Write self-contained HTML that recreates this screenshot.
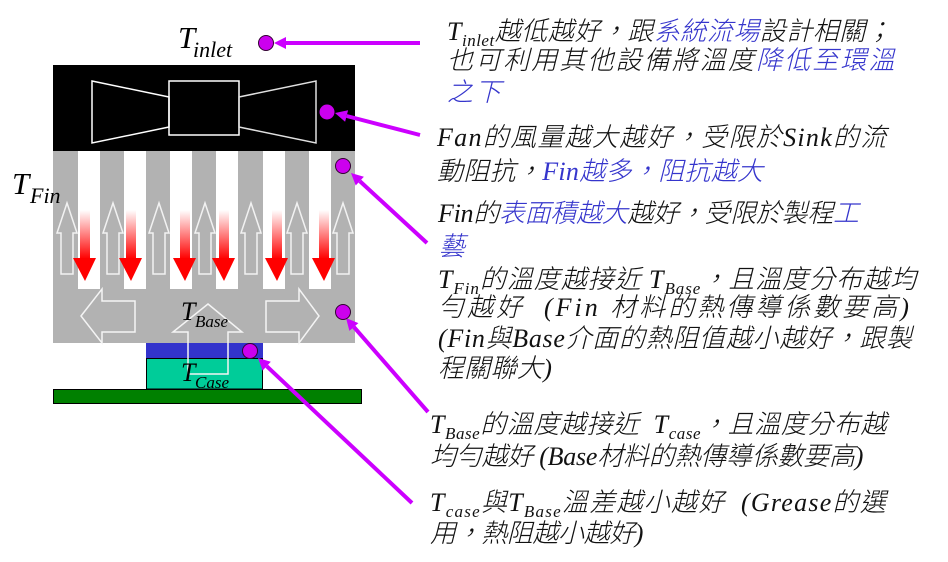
<!DOCTYPE html>
<html>
<head>
<meta charset="utf-8">
<style>
  html,body{margin:0;padding:0;background:#fff;}
  #wrap{position:relative;width:948px;height:562px;overflow:hidden;background:#fff;}
  svg{position:absolute;left:0;top:0;}
  .t{position:absolute;white-space:nowrap;font-family:"Liberation Serif","Noto Sans CJK TC",serif;font-style:italic;font-weight:300;font-size:26px;line-height:32px;color:#111;}
  .t sub{font-size:17px;position:relative;top:6px;vertical-align:baseline;line-height:1;}
  .b{color:#3535cc;}
</style>
</head>
<body>
<div id="wrap">
<svg width="948" height="562" viewBox="0 0 948 562" xmlns="http://www.w3.org/2000/svg">
  <defs>
    <linearGradient id="rg" x1="0" y1="0" x2="0" y2="1">
      <stop offset="0" stop-color="#ffffff"/>
      <stop offset="1" stop-color="#ff0000"/>
    </linearGradient>
  </defs>

  <!-- fan box -->
  <rect x="53" y="65" width="302" height="86" fill="#000"/>
  <polygon points="92,81 169,97 169,127 92,143" fill="none" stroke="#fff" stroke-width="1.5"/>
  <rect x="169" y="81" width="70" height="54" fill="none" stroke="#fff" stroke-width="1.5"/>
  <polygon points="239,97 316,81 316,143 239,127" fill="none" stroke="#e0e0e0" stroke-width="1.5"/>

  <!-- fins + base -->
  <rect x="53" y="151" width="302" height="192" fill="#b2b2b2"/>
  <rect x="78" y="151" width="22" height="138" fill="#fff"/>
  <rect x="124" y="151" width="22" height="138" fill="#fff"/>
  <rect x="170" y="151" width="22" height="138" fill="#fff"/>
  <rect x="216" y="151" width="22" height="138" fill="#fff"/>
  <rect x="263" y="151" width="22" height="138" fill="#fff"/>
  <rect x="309" y="151" width="22" height="138" fill="#fff"/>

  <!-- hollow up arrows in fins -->
  <g fill="none" stroke="#f2f2f2" stroke-width="1.5">
    <polygon points="67,203 77,233 73,233 73,274 61,274 61,233 57,233"/>
    <polygon points="113,203 123,233 119,233 119,274 107,274 107,233 103,233"/>
    <polygon points="159,203 169,233 165,233 165,274 153,274 153,233 149,233"/>
    <polygon points="205,203 215,233 211,233 211,274 199,274 199,233 195,233"/>
    <polygon points="251,203 261,233 257,233 257,274 245,274 245,233 241,233"/>
    <polygon points="297,203 307,233 303,233 303,274 291,274 291,233 287,233"/>
    <polygon points="343,203 353,233 349,233 349,274 337,274 337,233 333,233"/>
  </g>

  <!-- red down arrows -->
  <g>
    <rect x="80" y="210" width="10" height="49" fill="url(#rg)"/>
    <polygon points="73,258 96,258 85,281" fill="#ff0000"/>
    <rect x="126" y="210" width="10" height="49" fill="url(#rg)"/>
    <polygon points="119,258 142,258 131,281" fill="#ff0000"/>
    <rect x="180" y="210" width="10" height="49" fill="url(#rg)"/>
    <polygon points="173,258 196,258 185,281" fill="#ff0000"/>
    <rect x="219" y="210" width="10" height="49" fill="url(#rg)"/>
    <polygon points="212,258 235,258 224,281" fill="#ff0000"/>
    <rect x="272" y="210" width="10" height="49" fill="url(#rg)"/>
    <polygon points="265,258 288,258 277,281" fill="#ff0000"/>
    <rect x="319" y="210" width="10" height="49" fill="url(#rg)"/>
    <polygon points="312,258 335,258 324,281" fill="#ff0000"/>
  </g>

  <!-- base hollow arrows -->
  <g fill="none" stroke="#f4f4f4" stroke-width="1.5">
    <polygon points="81,316 102,289 102,301 135,301 135,332 102,332 102,343"/>
    <polygon points="266,301 299,301 299,289 319,316 299,343 299,332 266,332"/>
  </g>

  <!-- chip -->
  <rect x="146" y="343" width="117" height="15" fill="#3333cc"/>
  <rect x="146.5" y="358.5" width="116" height="30.5" fill="#00cc99" stroke="#000" stroke-width="1"/>
  <rect x="53.5" y="389.5" width="308" height="14" fill="#008000" stroke="#000" stroke-width="1"/>

  <!-- up hollow arrow over chip -->
  <polygon points="208,304 242,332 228,332 228,374 188,374 188,332 173,332" fill="none" stroke="#f4f4f4" stroke-width="1.5"/>

  <!-- left labels -->
  <g font-family="Liberation Serif, serif" font-style="italic" fill="#000">
    <text x="178" y="48" font-size="31">T</text>
    <text x="193" y="57" font-size="22">inlet</text>
    <text x="12" y="194" font-size="31">T</text>
    <text x="30" y="203" font-size="22">Fin</text>
    <text x="181" y="320" font-size="26">T</text>
    <text x="195" y="327" font-size="17">Base</text>
    <text x="181" y="381" font-size="26">T</text>
    <text x="195" y="388" font-size="17">Case</text>
  </g>

  <!-- connectors -->
  <g stroke="#cc00ff" stroke-width="4" fill="none" stroke-linecap="butt">
    <line x1="420" y1="43" x2="285" y2="43"/>
    <line x1="420" y1="135" x2="346.6" y2="116"/>
    <line x1="427" y1="243" x2="359.8" y2="181.1"/>
    <line x1="428" y1="412" x2="353.9" y2="327"/>
    <line x1="412" y1="503" x2="266.7" y2="366.2"/>
  </g>
  <g fill="#cc00ff">
    <polygon points="274,43 286,37 286,49"/>
    <polygon points="335,113 348.1,110.2 345.1,121.8"/>
    <polygon points="351,173 363.9,176.7 355.7,185.5"/>
    <polygon points="346,318 358.4,323.1 349.4,330.9"/>
    <polygon points="258,358 270.8,361.8 262.6,370.6"/>
  </g>

  <!-- dots -->
  <g fill="#cc00ee" stroke="#330033" stroke-width="1">
    <circle cx="266" cy="43" r="7.5"/>
    <circle cx="327" cy="112" r="7.5" stroke="none"/>
    <circle cx="343" cy="166" r="7.5"/>
    <circle cx="343" cy="312" r="7.5"/>
    <circle cx="250" cy="351" r="7.5"/>
  </g>
</svg>

<!-- Block 1 -->
<div class="t" style="left:447px;top:16px;letter-spacing:0.5px;">T<sub>inlet</sub>越低越好，跟<span class="b">系統流場</span>設計相關；</div>
<div class="t" style="left:447px;top:45px;letter-spacing:2.1px;">也可利用其他設備將溫度<span class="b">降低至環溫</span></div>
<div class="t b" style="left:447px;top:77px;letter-spacing:2px;">之下</div>

<!-- Block 2 -->
<div class="t" style="left:437px;top:122px;letter-spacing:1.3px;">Fan的風量越大越好，受限於Sink的流</div>
<div class="t" style="left:437px;top:156px;letter-spacing:0.3px;">動阻抗，<span class="b">Fin越多，阻抗越大</span></div>

<!-- Block 3 -->
<div class="t" style="left:438px;top:198px;letter-spacing:-0.3px;">Fin的<span class="b">表面積越大</span>越好，受限於製程<span class="b">工</span></div>
<div class="t b" style="left:439px;top:231px;">藝</div>
<div class="t" style="left:438px;top:264px;letter-spacing:0.95px;">T<sub>Fin</sub>的溫度越接近 T<sub>Base</sub>，且溫度分布越均</div>
<div class="t" style="left:438px;top:292px;letter-spacing:3px;">勻越好&nbsp; (Fin 材料的熱傳導係數要高)</div>
<div class="t" style="left:438px;top:323px;letter-spacing:0.7px;">(Fin與Base介面的熱阻值越小越好，跟製</div>
<div class="t" style="left:438px;top:353px;letter-spacing:0.3px;">程關聯大)</div>

<!-- Block 4 -->
<div class="t" style="left:430px;top:409px;letter-spacing:0.55px;">T<sub>Base</sub>的溫度越接近&nbsp; T<sub>case</sub>，且溫度分布越</div>
<div class="t" style="left:430px;top:441px;letter-spacing:-0.25px;">均勻越好 (Base材料的熱傳導係數要高)</div>

<!-- Block 5 -->
<div class="t" style="left:430px;top:487px;letter-spacing:1.25px;">T<sub>case</sub>與T<sub>Base</sub>溫差越小越好&nbsp; (Grease的選</div>
<div class="t" style="left:430px;top:518px;letter-spacing:-0.4px;">用，熱阻越小越好)</div>
</div>
</body>
</html>
